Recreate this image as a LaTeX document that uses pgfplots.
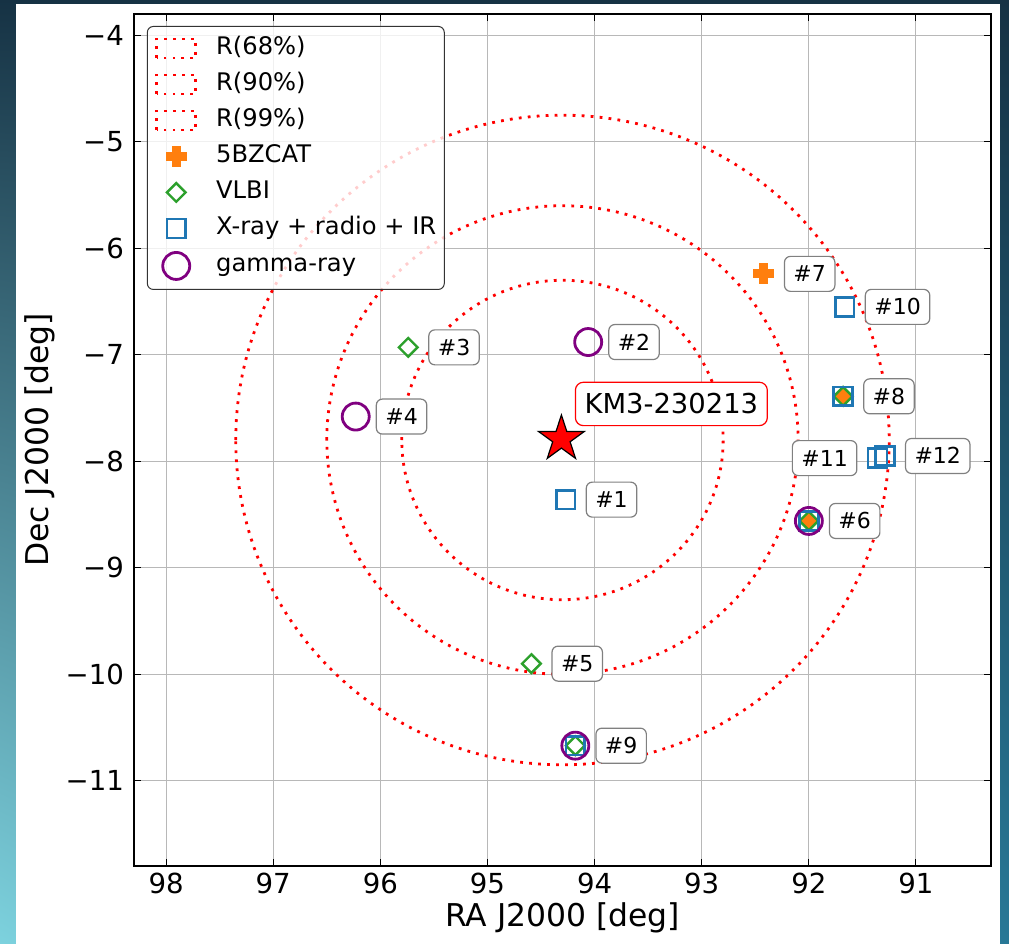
\documentclass[border=0pt]{standalone}
\usepackage{pgfplots}
\pgfplotsset{compat=1.18}
\usetikzlibrary{shadings}
\usepackage{fontspec}
\setmainfont{DejaVu Sans}
\definecolor{tabblue}{HTML}{1F77B4}
\definecolor{taborange}{HTML}{FF7F0E}
\definecolor{tabgreen}{HTML}{2CA02C}
\definecolor{mpurple}{HTML}{800080}
\definecolor{bgtop}{RGB}{22,50,68}
\definecolor{bgll}{RGB}{125,210,222}
\definecolor{bglr}{RGB}{40,120,150}

\pgfdeclareplotmark{fplus}{%
  \pgfpathmoveto{\pgfqpoint{-0.4\pgfplotmarksize}{\pgfplotmarksize}}%
  \pgfpathlineto{\pgfqpoint{0.4\pgfplotmarksize}{\pgfplotmarksize}}%
  \pgfpathlineto{\pgfqpoint{0.4\pgfplotmarksize}{0.4\pgfplotmarksize}}%
  \pgfpathlineto{\pgfqpoint{\pgfplotmarksize}{0.4\pgfplotmarksize}}%
  \pgfpathlineto{\pgfqpoint{\pgfplotmarksize}{-0.4\pgfplotmarksize}}%
  \pgfpathlineto{\pgfqpoint{0.4\pgfplotmarksize}{-0.4\pgfplotmarksize}}%
  \pgfpathlineto{\pgfqpoint{0.4\pgfplotmarksize}{-\pgfplotmarksize}}%
  \pgfpathlineto{\pgfqpoint{-0.4\pgfplotmarksize}{-\pgfplotmarksize}}%
  \pgfpathlineto{\pgfqpoint{-0.4\pgfplotmarksize}{-0.4\pgfplotmarksize}}%
  \pgfpathlineto{\pgfqpoint{-\pgfplotmarksize}{-0.4\pgfplotmarksize}}%
  \pgfpathlineto{\pgfqpoint{-\pgfplotmarksize}{0.4\pgfplotmarksize}}%
  \pgfpathlineto{\pgfqpoint{-0.4\pgfplotmarksize}{0.4\pgfplotmarksize}}%
  \pgfpathclose
  \pgfusepathqfillstroke
}
\pgfdeclareplotmark{fstar}{%
  \pgfpathmoveto{\pgfqpointpolar{90}{\pgfplotmarksize}}%
  \pgfpathlineto{\pgfqpointpolar{126}{0.382\pgfplotmarksize}}%
  \pgfpathlineto{\pgfqpointpolar{162}{\pgfplotmarksize}}%
  \pgfpathlineto{\pgfqpointpolar{198}{0.382\pgfplotmarksize}}%
  \pgfpathlineto{\pgfqpointpolar{234}{\pgfplotmarksize}}%
  \pgfpathlineto{\pgfqpointpolar{270}{0.382\pgfplotmarksize}}%
  \pgfpathlineto{\pgfqpointpolar{306}{\pgfplotmarksize}}%
  \pgfpathlineto{\pgfqpointpolar{342}{0.382\pgfplotmarksize}}%
  \pgfpathlineto{\pgfqpointpolar{18}{\pgfplotmarksize}}%
  \pgfpathlineto{\pgfqpointpolar{54}{0.382\pgfplotmarksize}}%
  \pgfpathclose
  \pgfusepathqfillstroke
}

\pgfplotsset{
  mymarkleg/.style={legend image code/.code={%
    \draw[opacity=1,##1] plot coordinates {(9.75pt,0pt)};
    \path (0pt,0pt) (29pt,0pt);}},
  ringleg/.style={legend image code/.code={%
    \draw[opacity=1,red,line width=1.35pt,dash pattern=on 1.35pt off 3.1pt,rounded corners=0pt] (0pt,-4.8pt) rectangle (19.5pt,4.8pt);
    \path (0pt,0pt) (29pt,0pt);}},
}
\tikzset{
  labbox/.style={draw=black!50, fill=white, rounded corners=3pt, line width=0.6pt,
    font=\fontsize{11}{13}\selectfont, inner xsep=4.5pt, inner ysep=4.75pt,
    text height=8pt, text depth=0pt},
  ring/.style={red, line width=1.4pt, dash pattern=on 1.4pt off 3.1pt},
}

\begin{document}
\begin{tikzpicture}
% background (figure surroundings)
\shade[upper left=bgtop, upper right=bgtop, lower left=bgll, lower right=bglr]
  (-67pt,-39pt) rectangle (437.5pt,433pt);
\fill[white] (-59pt,-39pt) rectangle (433pt,431pt);
\begin{axis}[
  at={(0pt,0pt)}, anchor=south west,
  scale only axis, width=428.5pt, height=426pt,
  x dir=reverse,
  xmin=90.3, xmax=98.3, ymin=-11.8, ymax=-3.8,
  xtick={91,92,93,94,95,96,97,98},
  xticklabels={91,92,93,94,95,96,97,98},
  ytick={-11,-10,-9,-8,-7,-6,-5,-4},
  yticklabels={−11,−10,−9,−8,−7,−6,−5,−4},
  tick align=inside, major tick length=3.5pt,
  tick style={black, line width=0.5pt},
  tick label style={font=\fontsize{13.8}{16}\selectfont},
  yticklabel style={xshift=-1.5pt},
  grid=major, major grid style={black!28, line width=0.5pt},
  axis line style={black, line width=0.6pt},
  xlabel={RA J2000 [deg]}, ylabel={Dec J2000 [deg]},
  every axis x label/.style={at={(axis description cs:0.5,0)}, anchor=center,
    yshift=-26pt, font=\fontsize{15.7}{18}\selectfont},
  every axis y label/.style={at={(axis description cs:0,0.5)}, xshift=-47pt,
    rotate=90, anchor=center, font=\fontsize{15.7}{18}\selectfont},
  legend cell align=left,
  legend style={at={(axis description cs:0.015,0.986)}, anchor=north west,
    font=\fontsize{12.1}{14}\selectfont,
    nodes={inner sep=0pt, text height=9pt, text depth=3pt, anchor=west},
    row sep=6pt, inner xsep=4pt, inner ysep=5pt,
    rounded corners=3pt, draw=black!80, line width=0.5pt,
    fill=white, fill opacity=0.8, text opacity=1, draw opacity=1},
]
% confidence regions (centre RA 94.3, Dec -7.8)
\draw[ring] (axis cs:94.3,-7.8) ellipse [x radius=1.5, y radius=1.5];
\draw[ring] (axis cs:94.3,-7.8) ellipse [x radius=2.2, y radius=2.2];
\draw[ring] (axis cs:94.3,-7.8) ellipse [x radius=3.05, y radius=3.05];
\addlegendimage{ringleg}\addlegendentry{R(68\%)}
\addlegendimage{ringleg}\addlegendentry{R(90\%)}
\addlegendimage{ringleg}\addlegendentry{R(99\%)}

% 5BZCAT
\addplot[only marks, mark=fplus, mark size=5pt, draw=taborange, fill=taborange, line width=0.5pt, mymarkleg]
  table {
x y
92.42 -6.24
};
\addlegendentry{5BZCAT}
% VLBI
\addplot[only marks, mark=square, mark size=3.3pt, mark options={rotate=45}, draw=tabgreen, line width=1.2pt, mymarkleg]
  table {
x y
95.74 -6.93
94.59 -9.90
94.18 -10.67
};
\addlegendentry{VLBI}
% VLBI sources also in 5BZCAT
\addplot[only marks, mark=square*, mark size=3.3pt, mark options={rotate=45, fill=taborange}, draw=tabgreen, line width=1.2pt, forget plot]
  table {
x y
92.00 -8.56
91.68 -7.39
};
% X-ray + radio + IR
\addplot[only marks, mark=square, mark size=4.7pt, draw=tabblue, line width=1.3pt, mymarkleg]
  table {
x y
94.27 -8.36
92.00 -8.56
91.68 -7.39
94.18 -10.67
91.665 -6.55
91.36 -7.97
91.29 -7.95
};
\addlegendentry{X-ray + radio + IR}
% gamma-ray
\addplot[only marks, mark=o, mark size=6.75pt, draw=mpurple, line width=1.4pt, mymarkleg]
  table {
x y
94.06 -6.88
96.23 -7.58
92.00 -8.56
94.18 -10.67
};
\addlegendentry{gamma-ray}
% neutrino KM3-230213
\addplot[only marks, mark=fstar, mark size=12pt, draw=black, fill=red, line width=0.6pt, forget plot]
  table {
x y
94.31 -7.79
};

\node[draw=red, fill=white, rounded corners=4pt, line width=0.6pt,
  font=\fontsize{13.7}{16}\selectfont, inner xsep=4.6pt, inner ysep=5.85pt,
  text height=10pt, text depth=0pt, anchor=south west, xshift=6.7pt, yshift=6.35pt]
  at (axis cs:94.31,-7.79) {KM3-230213};

\node[labbox, anchor=west, xshift=10pt] at (axis cs:94.27,-8.36) {\#1};
\node[labbox, anchor=west, xshift=10pt] at (axis cs:94.06,-6.88) {\#2};
\node[labbox, anchor=west, xshift=10pt] at (axis cs:95.74,-6.93) {\#3};
\node[labbox, anchor=west, xshift=10pt] at (axis cs:96.23,-7.58) {\#4};
\node[labbox, anchor=west, xshift=10pt] at (axis cs:94.59,-9.90) {\#5};
\node[labbox, anchor=west, xshift=10pt] at (axis cs:92.00,-8.56) {\#6};
\node[labbox, anchor=west, xshift=10pt] at (axis cs:92.42,-6.24) {\#7};
\node[labbox, anchor=west, xshift=10pt] at (axis cs:91.68,-7.39) {\#8};
\node[labbox, anchor=west, xshift=10pt] at (axis cs:94.18,-10.67) {\#9};
\node[labbox, anchor=west, xshift=10pt] at (axis cs:91.665,-6.55) {\#10};
\node[labbox, anchor=east, xshift=-10pt] at (axis cs:91.36,-7.97) {\#11};
\node[labbox, anchor=west, xshift=10pt] at (axis cs:91.29,-7.95) {\#12};
\end{axis}
\pgfresetboundingbox
\path (-67pt,-39pt) rectangle (437.5pt,433pt);
\end{tikzpicture}
\end{document}
